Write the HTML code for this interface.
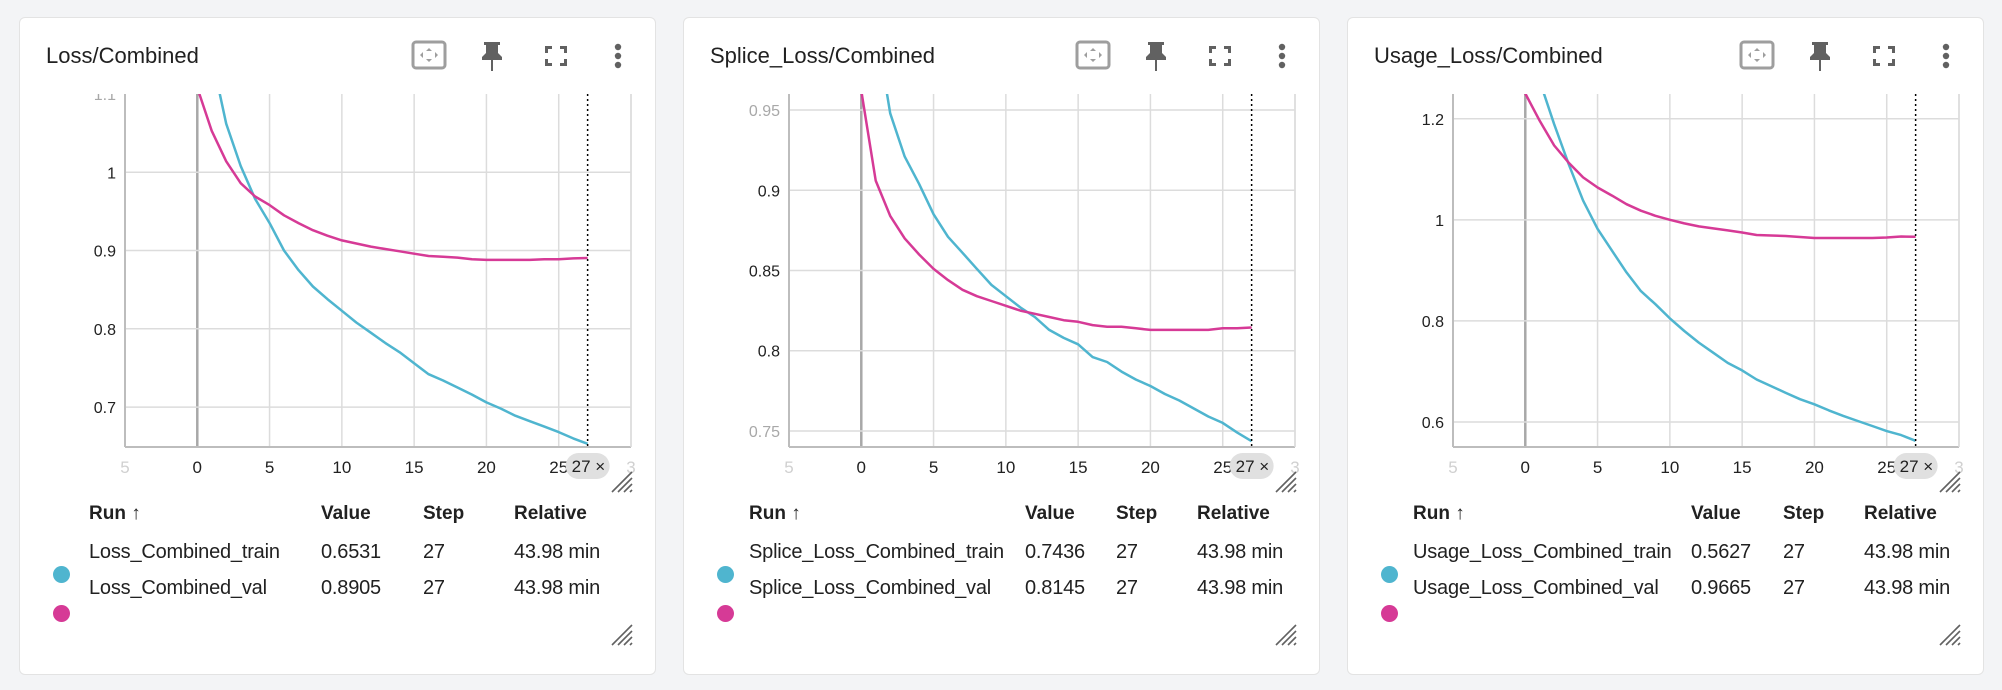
<!DOCTYPE html>
<html><head><meta charset="utf-8">
<style>
html,body{margin:0;padding:0;width:2002px;height:690px;background:#f3f4f6;overflow:hidden;font-family:"Liberation Sans",sans-serif;}
.card{position:absolute;top:17px;width:637px;height:658px;background:#fff;border:1px solid #e3e3e3;border-radius:6px;box-sizing:border-box;}
.title{position:absolute;left:26px;top:25px;font-size:22px;color:#212121;}
.icon{position:absolute;}
svg.chart{position:absolute;left:0;top:0;}
.th{position:absolute;font-weight:bold;font-size:19px;color:#212121;top:485px;}
.td{position:absolute;font-size:20px;color:#212121;letter-spacing:-0.2px;white-space:nowrap;}
.dot{position:absolute;width:17px;height:17px;border-radius:50%;}
</style></head><body>
<div id="root"></div>
<script>
const steps = [0,1,2,3,4,5,6,7,8,9,10,11,12,13,14,15,16,17,18,19,20,21,22,23,24,25,26,27];
const lossTrain = [1.40,1.148,1.062,1.008,0.966,0.935,0.90,0.875,0.854,0.838,0.823,0.808,0.795,0.782,0.77,0.756,0.742,0.734,0.725,0.716,0.706,0.698,0.689,0.682,0.675,0.668,0.660,0.6531];
const lossVal = [1.108,1.053,1.014,0.986,0.969,0.958,0.945,0.935,0.926,0.919,0.913,0.909,0.905,0.902,0.899,0.896,0.893,0.892,0.891,0.889,0.888,0.888,0.888,0.888,0.889,0.889,0.890,0.8905];
const spliceTrain = [1.10,1.003,0.948,0.921,0.904,0.885,0.871,0.861,0.851,0.841,0.834,0.827,0.821,0.813,0.808,0.804,0.796,0.793,0.787,0.782,0.778,0.773,0.769,0.764,0.759,0.755,0.749,0.7436];
const spliceVal = [0.962,0.906,0.884,0.870,0.860,0.851,0.844,0.838,0.834,0.831,0.828,0.825,0.823,0.821,0.819,0.818,0.816,0.815,0.815,0.814,0.813,0.813,0.813,0.813,0.813,0.814,0.814,0.8145];
const usageTrain = [1.45,1.275,1.189,1.110,1.038,0.982,0.939,0.896,0.859,0.833,0.805,0.780,0.757,0.737,0.717,0.702,0.684,0.671,0.658,0.645,0.635,0.623,0.612,0.602,0.592,0.582,0.574,0.5627];
const usageVal = [1.25,1.196,1.147,1.113,1.084,1.064,1.048,1.031,1.018,1.008,1.0,0.993,0.987,0.983,0.979,0.975,0.970,0.969,0.968,0.966,0.964,0.964,0.964,0.964,0.964,0.965,0.967,0.9665];
const xTicks = [-5,0,5,10,15,20,25,30];
const yTicks1 = [0.7,0.8,0.9,1,1.1];
const yTicks2 = [0.75,0.8,0.85,0.9,0.95];
const yTicks3 = [0.6,0.8,1,1.2];
const yDomain1 = [0.649,1.10];
const yDomain2 = [0.740,0.960];
const yDomain3 = [0.5505,1.249];
const xDomain = [-5,30];
const panels = [
 {name:'loss',title:'Loss/Combined',train:lossTrain,val:lossVal,yt:yTicks1,yd:yDomain1,runs:['Loss_Combined_train','Loss_Combined_val'],vals:['0.6531','0.8905'],cols:[69,301,403,494],dotx:41,left:19},
 {name:'splice',title:'Splice_Loss/Combined',train:spliceTrain,val:spliceVal,yt:yTicks2,yd:yDomain2,runs:['Splice_Loss_Combined_train','Splice_Loss_Combined_val'],vals:['0.7436','0.8145'],cols:[65,341,432,513],dotx:41,left:683},
 {name:'usage',title:'Usage_Loss/Combined',train:usageTrain,val:usageVal,yt:yTicks3,yd:yDomain3,runs:['Usage_Loss_Combined_train','Usage_Loss_Combined_val'],vals:['0.5627','0.9665'],cols:[65,343,435,516],dotx:41,left:1347}
];
const NS='http://www.w3.org/2000/svg';
const PL=105, PR=611, PT=76, PB=429;
function sx(v){return PL+(v-xDomain[0])/(xDomain[1]-xDomain[0])*(PR-PL);}
function mk(tag,attrs,parent){const e=document.createElementNS(NS,tag);for(const k in attrs)e.setAttribute(k,attrs[k]);parent.appendChild(e);return e;}
const root=document.getElementById('root');
panels.forEach((p,pi)=>{
 const card=document.createElement('div');card.className='card';card.style.left=p.left+'px';
 
 
 root.appendChild(card);
 const t=document.createElement('div');t.className='title';t.textContent=p.title;
 
 
 card.appendChild(t);
 const icons=document.createElement('div');
 icons.innerHTML=
 '<svg class="icon" style="left:391px;top:22px" width="36" height="30"><rect x="2" y="2" width="32" height="26" rx="3" fill="none" stroke="#9e9e9e" stroke-width="3"/><path d="M18 8l3 3h-6zM18 22l3-3h-6zM9 15l3-3v6zM27 15l-3-3v6z" fill="#9e9e9e"/></svg>'+
 '<svg class="icon" style="left:459px;top:22px" width="26" height="32"><path d="M5 2h16v3h-2v8l4 4v3H14v11h-2V20H3v-3l4-4V5H5z" fill="#616161"/></svg>'+
 '<svg class="icon" style="left:523px;top:26px" width="26" height="24"><path d="M2 2h7v3H5v4H2zM24 2h-7v3h4v4h3zM2 22h7v-3H5v-4H2zM24 22h-7v-3h4v-4h3z" fill="#616161"/></svg>'+
 '<svg class="icon" style="left:589px;top:24px" width="18" height="28"><circle cx="9" cy="5" r="3.2" fill="#616161"/><circle cx="9" cy="14" r="3.2" fill="#616161"/><circle cx="9" cy="23" r="3.2" fill="#616161"/></svg>';
 while(icons.firstChild)card.appendChild(icons.firstChild);
 const svg=mk('svg',{class:'chart',width:637,height:658},card);
 
 
 const sy=v=>PB-(v-p.yd[0])/(p.yd[1]-p.yd[0])*(PB-PT);
 const cid='clip'+pi;
 const defs=mk('defs',{},svg);const cp=mk('clipPath',{id:cid},defs);mk('rect',{x:PL,y:PT,width:PR-PL,height:PB-PT},cp);
 const tcp=mk('clipPath',{id:'t'+cid},defs);mk('rect',{x:0,y:PT,width:637,height:PB-PT+60},tcp);
 xTicks.forEach(v=>{
  const g=mk('line',{x1:sx(v),x2:sx(v),y1:PT,y2:PB,stroke:v===0?'#a8a8a8':'#dcdcdc','stroke-width':v===0?2.5:1.5},svg);
  
  
  const lb=mk('text',{x:sx(v),y:455,'text-anchor':'middle','font-size':17,fill:(v===-5||v===30)?'#d0d0d0':'#212121'},svg);
  lb.textContent=String(v===-5?'5':(v===30?'3':v));
  
  
 });
 p.yt.forEach((v,i)=>{
  const y=sy(v);
  const edge=(pi===1&&(v===0.75||v===0.95))||(pi===0&&v===1.1);
  if(!(pi===0&&v===1.1)){
   const g=mk('line',{x1:PL,x2:PR,y1:y,y2:y,stroke:'#dcdcdc','stroke-width':1.5},svg);
   
   
  }
  const lb=mk('text',{x:PL-9,y:y+6,'text-anchor':'end','font-size':16,fill:edge?'#a8a8a8':'#212121','clip-path':'url(#t'+cid+')'},svg);
  lb.textContent=String(v);
  
  
 });
 mk('line',{x1:PL,x2:PL,y1:PT,y2:PB,stroke:'#bdbdbd','stroke-width':2},svg);
 mk('line',{x1:PL,x2:PR,y1:PB,y2:PB,stroke:'#bdbdbd','stroke-width':2},svg);
 mk('line',{x1:PR,x2:PR,y1:PT,y2:PB,stroke:'#dcdcdc','stroke-width':1.5},svg);
 const series=[[p.train,'#4fb5cf','train-line'],[p.val,'#d63a96','val-line']];
 series.forEach(([arr,col,nm])=>{
  const d=arr.map((v,i)=>(i?'L':'M')+sx(steps[i]).toFixed(1)+' '+sy(v).toFixed(1)).join(' ');
  const path=mk('path',{d:d,fill:'none',stroke:col,'stroke-width':2.5,'clip-path':'url(#'+cid+')','stroke-linejoin':'round'},svg);
  
  
 });
 const lx=sx(steps[steps.length-1]);
 const dl=mk('line',{x1:lx,x2:lx,y1:PT,y2:PB,stroke:'#000','stroke-width':1.5,'stroke-dasharray':'2 3'},svg);
 
 
 const chip=mk('rect',{x:lx-22,y:435,width:44,height:26,rx:13,fill:'#e0e0e0'},svg);
 
 
 const ct=mk('text',{x:lx-16,y:454,'font-size':17,fill:'#212121'},svg);ct.textContent='27 ×';
 
 
 [[588,450],[588,603]].forEach(([x,y])=>{
  const g=mk('g',{stroke:'#616161','stroke-width':1.6},svg);
  
  
  for(let k=0;k<4;k++){mk('line',{x1:x+4+k*6,y1:y+24,x2:x+24,y2:y+4+k*6},g);}
 });
 const hdr=['Run ↑','Value','Step','Relative'];
 hdr.forEach((h,i)=>{const e=document.createElement('div');e.className='th';e.style.left=p.cols[i]+'px';e.textContent=h;
  
  
  card.appendChild(e);});
 const cols=['#4fb5cf','#d63a96'];
 [0,1].forEach(r=>{
  const y=[523,559][r];
  const cells=[p.runs[r],p.vals[r],'27','43.98 min'];
  cells.forEach((c,i)=>{const e=document.createElement('div');e.className='td';e.style.left=p.cols[i]+'px';e.style.top=y+'px';e.textContent=c;
   
   
   card.appendChild(e);});
  const d=document.createElement('div');d.className='dot';d.style.background=cols[r];d.style.left=(p.dotx-8)+'px';d.style.top=([556,595][r]-8)+'px';
  
  
  card.appendChild(d);
 });
});
</script>
</body></html>
